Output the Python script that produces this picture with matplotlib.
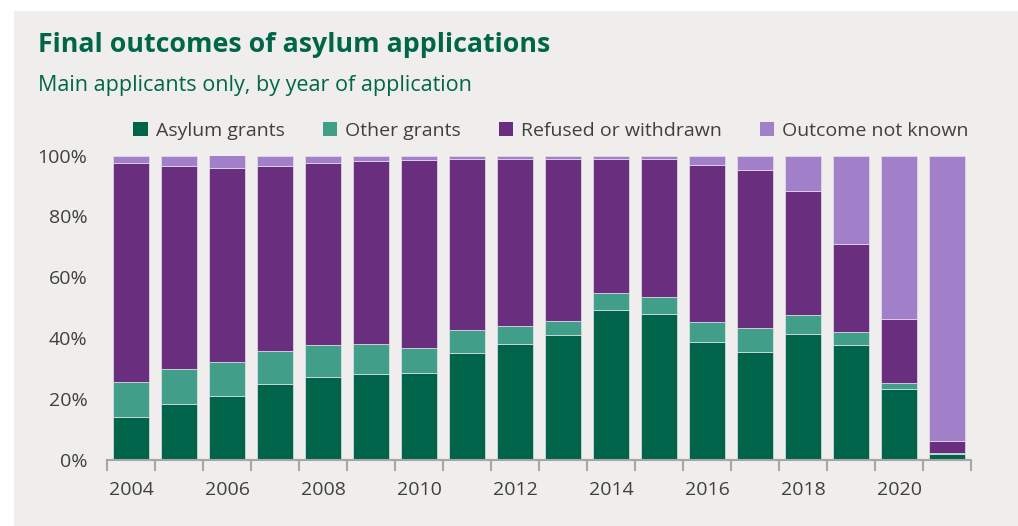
import numpy as np
import matplotlib
matplotlib.use('Agg')
from matplotlib import pyplot as plt
from matplotlib.patches import Patch, Rectangle

years = list(range(2004, 2022))

# shares of main applicants (%)
asylum_grants = [14.2, 18.5, 21.1, 25.1, 27.4, 28.1, 28.6, 35.2, 38.2,
                 40.9, 49.4, 48.1, 38.6, 35.6, 41.5, 37.9, 23.4, 1.9]
other_grants = [11.3, 11.5, 11.1, 10.6, 10.4, 10.1, 8.2, 7.4, 5.7,
                4.8, 5.5, 5.5, 6.6, 7.6, 6.1, 4.2, 1.9, 0.3]
refused = [71.9, 66.7, 63.6, 60.8, 59.9, 60.0, 61.6, 56.1, 54.8,
           53.0, 44.1, 45.1, 51.6, 52.2, 40.6, 29.0, 21.1, 4.1]
not_known = [2.6, 3.3, 4.2, 3.5, 2.3, 1.8, 1.6, 1.3, 1.3,
             1.3, 1.0, 1.3, 3.2, 4.6, 11.8, 28.9, 53.6, 93.7]

series = [
    ('Asylum grants', asylum_grants, '#00644a'),
    ('Other grants', other_grants, '#419e89'),
    ('Refused or withdrawn', refused, '#692e7e'),
    ('Outcome not known', not_known, '#a27fc9'),
]

plt.rcParams['font.family'] = ['Open Sans', 'DejaVu Sans']
text_col = '#404040'
green = '#00664a'
bg = '#efeeec'

fig = plt.figure(figsize=(10.18, 5.26), dpi=100)
fig.patch.set_facecolor('white')
# grey panel behind everything
fig.patches.append(Rectangle((14 / 1018, 0), 1, 1 - 11 / 526, transform=fig.transFigure,
                             facecolor=bg, edgecolor='none', zorder=-10))

ax = fig.add_axes([107 / 1018, 66 / 526, 864 / 1018, 304.5 / 526])
ax.set_facecolor(bg)

x = np.arange(len(years))
bottom = np.zeros(len(years))
handles = []
for name, vals, col in series:
    vals = np.array(vals)
    ax.bar(x, vals, width=0.76, bottom=bottom, color=col,
           edgecolor='#e6e1ea', linewidth=0.5)
    bottom += vals
    handles.append(Patch(facecolor=col, edgecolor='none', label=name))

ax.set_xlim(-0.5, len(years) - 0.5)
ax.set_ylim(0, 100)

# y axis
ax.set_yticks([0, 20, 40, 60, 80, 100])
ax.set_yticklabels(['0%', '20%', '40%', '60%', '80%', '100%'])
ax.tick_params(axis='y', length=0, pad=14, labelsize=14, labelcolor=text_col)

# x axis: labels every other year, ticks on category boundaries
ax.set_xticks(x[::2])
ax.set_xticklabels([str(y) for y in years[::2]])
ax.set_xticks(np.arange(-0.5, len(years), 1), minor=True)
ax.tick_params(axis='x', which='major', length=0, pad=15, labelsize=14, labelcolor=text_col)
ax.tick_params(axis='x', which='minor', length=8, width=1.5, color='#a6a6a6')

for s in ['top', 'right', 'left']:
    ax.spines[s].set_visible(False)
ax.spines['bottom'].set_color('#a6a6a6')
ax.spines['bottom'].set_linewidth(1.5)

fig.text(38 / 1018, 1 - 45 / 526, 'Final outcomes of asylum applications',
         fontsize=19.3, fontweight='bold', color=green, va='center', ha='left')
fig.text(38 / 1018, 1 - 86 / 526, 'Main applicants only, by year of application',
         fontsize=15.5, color=green, va='center', ha='left')

fig.legend(handles=handles, loc='center', bbox_to_anchor=(551 / 1018, 1 - 131 / 526),
           ncol=4, frameon=False, fontsize=14, labelcolor=text_col,
           handlelength=0.75, handleheight=0.75, handletextpad=0.4, columnspacing=1.95)

fig.savefig('out.png', dpi=100, facecolor=fig.get_facecolor())
